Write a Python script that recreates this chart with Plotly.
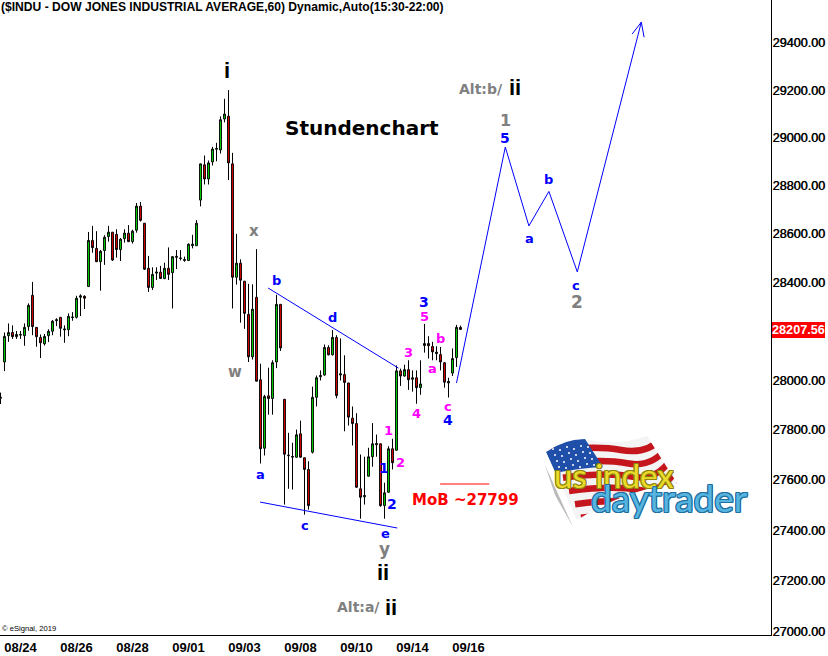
import base64
import math
import plotly.graph_objects as go

TITLE = "($INDU - DOW JONES INDUSTRIAL AVERAGE,60) Dynamic,Auto(15:30-22:00)"
date_labels = ["08/24", "08/26", "08/28", "09/01", "09/03", "09/08", "09/10", "09/14", "09/16"]
date_ticks = [4, 18, 32, 46, 60, 74, 88, 102, 116]
price_ticks = [27000, 27200, 27400, 27600, 27800, 28000, 28400, 28600, 28800, 29000, 29200, 29400]
last_price = 28207.56

highs = [27951,28195,28232,28224,28201,28201,28232,28314,28402,28216,28187,28189,28208,28246,28253,28257,28224,28273,28278,28345,28351,28347,
         28608,28633,28611,28533,28594,28633,28607,28619,28583,28619,28636,28617,28728,28732,28644,28509,28462,28462,28468,28481,28544,28506,28533,28533,28506,28561,28596,28657,
         28891,28926,28905,28962,28979,29090,29164,29201,28937,28600,28495,28405,28394,
         28392,28537,28068,27942,28052,28082,28349,28310,27924,27789,27749,27802,27838,27689,27675,27975,28020,28041,28146,28143,28205,28184,28171,28102,27990,27895,27868,27702,27693,27729,27828,27782,27745,27589,27735,27765,28061,28048,28064,28082,28041,28041,28082,
         28230,28180,28157,28139,28136,28075,28011,28130,28226,28223]
lows = [27905,28038,28157,28169,28169,28169,28141,28202,28184,28137,28091,28142,28156,28184,28221,28178,28153,28180,28243,28252,28262,28291,
        28383,28522,28485,28366,28472,28568,28488,28502,28488,28564,28566,28560,28605,28651,28451,28361,28369,28410,28414,28413,28410,28293,28455,28490,28485,28488,28540,28551,
        28714,28805,28805,28884,28902,28934,29065,28823,28293,28391,28235,28210,28075,
        28085,27997,27666,27698,27862,27862,28050,28120,27502,27565,27562,27689,27689,27462,27482,27706,27895,28000,28020,28102,28102,27928,28000,27795,27818,27738,27569,27446,27502,27615,27653,27693,27493,27446,27549,27642,27719,27978,28016,27962,27955,27906,27942,
        28113,28089,28082,28082,28041,27971,27931,28018,28055,28205]
opens = [27928,28075,28182,28195,28178,28184,28182,28219,28347,28216,28175,28149,28182,28200,28243,28257,28206,28206,28256,28257,28339,28343,
         28383,28573,28540,28485,28531,28589,28607,28598,28535,28580,28603,28568,28615,28715,28644,28458,28379,28438,28442,28416,28458,28440,28503,28498,28490,28490,28551,28551,
         28740,28887,28828,28899,28952,28949,29079,29091,28891,28421,28479,28405,28269,
         28096,28339,28003,27727,27938,27927,28075,28310,27924,27697,27691,27691,27785,27689,27642,27711,27932,28015,28022,28134,28104,28175,28022,28024,27990,27848,27826,27565,27533,27615,27693,27741,27745,27498,27551,27725,27719,28039,28018,28044,28005,28011,27971,
         28142,28150,28138,28109,28105,28072,27990,28030,28093,28216]
closes = [27932,28179,28195,28178,28187,28187,28216,28306,28219,28178,28153,28179,28200,28241,28247,28212,28209,28261,28258,28335,28345,28335,
          28573,28543,28485,28528,28586,28607,28492,28535,28578,28603,28568,28611,28715,28656,28454,28379,28433,28442,28416,28458,28433,28506,28507,28500,28494,28557,28557,28644,
          28891,28828,28895,28953,28955,29076,29100,28895,28421,28479,28409,28273,28096,
          28290,27997,27725,27935,27927,28072,28310,28132,27703,27699,27694,27781,27691,27642,27498,27932,28011,28020,28134,28104,28175,27939,28027,27992,27852,27826,27571,27531,27538,27693,27745,27746,27498,27549,27725,27669,28039,28018,28044,28003,28011,27971,27986,
          28150,28141,28116,28115,28075,27993,27996,28089,28216,last_price]

# Elliott-wave drawings, expressed as (bar index, price)
upper_trend_x = [65.9, 98.5]
upper_trend_y = [28377, 28050]
lower_trend_x = [63.9, 98.2]
lower_trend_y = [27512, 27409]
path_x = [113.0, 125.2, 131.1, 136.1, 143.2, 159.2]
path_y = [27990, 28961, 28633, 28776, 28443, 29489]
arrow_x = [156.9, 159.2, 159.9]
arrow_y = [29438, 29489, 29425]
mob_x = [108.9, 121.2]
mob_y = [27584, 27584]

BLUE = "#0000ff"
GRAY = "#808080"
MAG = "#ff00ff"
ARIAL = "Liberation Sans"
VERD = "DejaVu Sans"

# text, centre x px, centre y px, colour, size, family
labels = [
    ("i", 227, 71, "#000000", 22, ARIAL),
    ("Stundenchart", 362, 128, "#000000", 20, VERD),
    ("Alt:b/", 481, 89, GRAY, 14, VERD),
    ("ii", 515, 87, "#000000", 22, ARIAL),
    ("1", 505, 120, GRAY, 16, VERD),
    ("5", 505, 138, BLUE, 14, VERD),
    ("x", 254, 231, GRAY, 15, VERD),
    ("w", 235, 372, GRAY, 15, VERD),
    ("a", 260, 474, BLUE, 13, VERD),
    ("b", 276, 280, BLUE, 13, VERD),
    ("c", 305, 525, BLUE, 13, VERD),
    ("d", 332, 317, BLUE, 13, VERD),
    ("e", 385, 533, BLUE, 13, VERD),
    ("y", 384, 549, GRAY, 17, VERD),
    ("ii", 383, 572, "#000000", 22, ARIAL),
    ("Alt:a/", 358, 607, GRAY, 14, VERD),
    ("ii", 391, 607, "#000000", 22, ARIAL),
    ("1", 384, 468, BLUE, 14, VERD),
    ("1", 388, 430, MAG, 13, VERD),
    ("2", 400, 463, MAG, 13, VERD),
    ("2", 392, 504, BLUE, 14, VERD),
    ("3", 424, 302, BLUE, 14, VERD),
    ("5", 424, 316, MAG, 13, VERD),
    ("3", 408, 352, MAG, 13, VERD),
    ("4", 416, 413, MAG, 13, VERD),
    ("a", 432, 368, MAG, 13, VERD),
    ("b", 440, 338, MAG, 13, VERD),
    ("c", 448, 407, MAG, 13, VERD),
    ("4", 448, 420, BLUE, 14, VERD),
    ("a", 529, 239, BLUE, 13, VERD),
    ("b", 548, 179, BLUE, 13, VERD),
    ("c", 576, 285, BLUE, 13, VERD),
    ("2", 577, 302, GRAY, 17, VERD),
    ("MoB ~27799", 466, 500, "#ff0000", 15, VERD),
]

W, H = 828, 656
PLOT_R, PLOT_B = 771, 635
px = lambda x: x / PLOT_R
py = lambda y: 1 - y / PLOT_B

idx = list(range(-1, len(highs) - 1))
fig = go.Figure()
fig.add_trace(go.Candlestick(
    x=idx, open=opens, high=highs, low=lows, close=closes,
    increasing=dict(fillcolor="#00f000", line=dict(color="#000000", width=1)),
    decreasing=dict(fillcolor="#f80000", line=dict(color="#000000", width=1)),
    whiskerwidth=0, hoverinfo="skip",
))
for xs, ys, c in [(upper_trend_x, upper_trend_y, BLUE), (lower_trend_x, lower_trend_y, BLUE),
                  (path_x, path_y, BLUE), (arrow_x, arrow_y, BLUE), (mob_x, mob_y, "#ff0000")]:
    fig.add_trace(go.Scatter(x=xs, y=ys, mode="lines", line=dict(color=c, width=1), hoverinfo="skip"))

anns = []
for t, x, y, c, s, fam in labels:
    anns.append(dict(text=f"<b>{t}</b>", x=px(x), y=py(y), xref="paper", yref="paper",
                     showarrow=False, xanchor="center", yanchor="middle", borderpad=0,
                     font=dict(color=c, size=s, family=fam)))
anns.append(dict(text=f"<b>{TITLE}</b>", x=0, y=py(7), xref="paper", yref="paper", showarrow=False,
                 xanchor="left", yanchor="middle", borderpad=0, font=dict(size=12.1, family=ARIAL, color="#000")))
anns.append(dict(text="© eSignal, 2019", x=px(1), y=py(628), xref="paper", yref="paper", showarrow=False,
                 xanchor="left", yanchor="middle", borderpad=0, font=dict(size=7.6, family=ARIAL, color="#000")))
anns.append(dict(text=f"<b>{last_price:.2f}</b>", x=px(798.5), y=py(330), xref="paper", yref="paper", showarrow=False,
                 xanchor="center", yanchor="middle", borderpad=0, font=dict(size=12.7, family=ARIAL, color="#fff")))
outline_y = ",".join(f"{a}px {b}px 0 #8f8410" for a, b in [(1,0),(-1,0),(0,1),(0,-1),(1,1),(-1,-1),(1,-1),(-1,1)])
outline_b = ",".join(f"{a}px {b}px 0 #1f6f9f" for a, b in [(1,0),(-1,0),(0,1),(0,-1),(1,1),(-1,-1),(1,-1),(-1,1)])
anns.append(dict(text="us index", x=px(614), y=py(475), xref="paper", yref="paper", showarrow=False,
                 xanchor="center", yanchor="middle", borderpad=0,
                 font=dict(size=33, family="Lato", color="#eadb2a", shadow=outline_y)))
anns.append(dict(text="daytrader", x=px(669), y=py(497), xref="paper", yref="paper", showarrow=False,
                 xanchor="center", yanchor="middle", borderpad=0,
                 font=dict(size=37, family="Lato", color="#55b4e0", shadow=outline_b)))

# Flag artwork of the logo
flag_w, flag_h = 140, 95
stripes = []
for k in range(8):
    t = k / 6
    x0, y0 = 36 + 36 * t, 0 + 80 * t
    x1, y1 = 104 + 36 * t, 2 + 48 * t
    stripes.append(f'<path d="M{x0-30:.1f} {y0+16:.1f} Q{x0+14:.1f} {y0+10:.1f} {x0+40:.1f} {y0+15:.1f} '
                   f'T{x1+14:.1f} {y1:.1f}" stroke="#c4161c" stroke-width="6.5" fill="none"/>')
stars = "".join(f'<circle cx="{8+7*a+b*2:.0f}" cy="{14+6*b+(a%2)*2-a*0.8:.0f}" r="1" fill="#fff"/>'
                for a in range(6) for b in range(4))
svg = f'''<svg xmlns="http://www.w3.org/2000/svg" width="{flag_w}" height="{flag_h}" viewBox="0 0 {flag_w} {flag_h}">
<defs><clipPath id="f"><path d="M1 17 Q20 4 40 4 Q70 12 102 1 L132 48 Q80 55 32 85 Z"/></clipPath></defs>
<path d="M0 30 L28 92 L10 60 Z" fill="#bbbbbb"/>
<g clip-path="url(#f)"><rect width="{flag_w}" height="{flag_h}" fill="#f4f4f4"/>{''.join(stripes)}
<path d="M0 15 Q20 3 40 4 L58 32 Q35 33 10 38 Z" fill="#1f4fa8"/>{stars}
</g></svg>'''
logo = "data:image/svg+xml;base64," + base64.b64encode(svg.encode()).decode()

fig.update_layout(
    width=W, height=H, margin=dict(l=0, r=W - PLOT_R, t=0, b=H - PLOT_B),
    paper_bgcolor="#fff", plot_bgcolor="#fff", showlegend=False, boxgap=0.35,
    annotations=anns,
    images=[dict(source=logo, xref="paper", yref="paper", x=px(545), y=py(435),
                 sizex=flag_w / PLOT_R, sizey=flag_h / PLOT_B, xanchor="left", yanchor="top",
                 sizing="stretch", layer="above")],
    shapes=[dict(type="rect", xref="paper", yref="paper", x0=px(772), x1=px(825), y0=py(322), y1=py(338),
                 fillcolor="#ff0000", line=dict(width=0), layer="above")],
    xaxis=dict(range=[-1.125, 191.625], rangeslider=dict(visible=False), tickmode="array",
               tickvals=date_ticks, ticktext=date_labels, showgrid=False, zeroline=False,
               showline=True, linecolor="#000", linewidth=1, ticks="",
               tickfont=dict(size=13, family=ARIAL, color="#000", weight="bold")),
    yaxis=dict(type="log", range=[math.log10(27000) - 3 / 15924, math.log10(27000) + 632 / 15924],
               side="right", tickmode="array", tickvals=price_ticks,
               ticktext=[f"{v:.2f}" for v in price_ticks], showgrid=False, zeroline=False,
               showline=True, linecolor="#000", linewidth=1, ticks="", ticklabelstandoff=-2,
               tickfont=dict(size=12.6, family=ARIAL, color="#000", shadow="0.4px 0 0 #000")),
)
fig.write_html("out.html", post_script="document.body.style.margin='0';", config=dict(displayModeBar=False))
